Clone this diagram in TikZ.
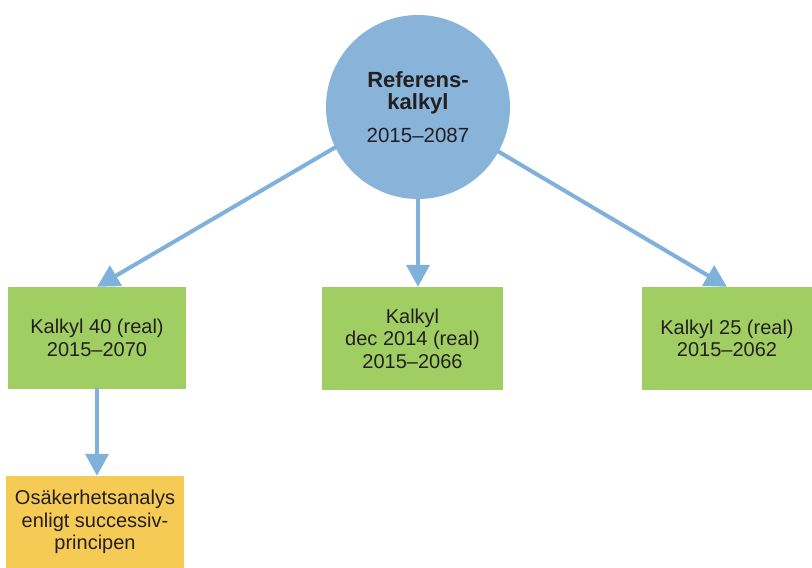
\documentclass[tikz,border=0pt]{standalone}
\usepackage{fontspec}
\setmainfont{Liberation Sans}
\usetikzlibrary{arrows.meta}
\definecolor{circblue}{HTML}{88B4DA}
\definecolor{arrblue}{HTML}{80B1DC}
\definecolor{boxgreen}{HTML}{A0CE63}
\definecolor{boxyellow}{HTML}{F6CB55}
\definecolor{txt}{HTML}{231F20}
\tikzset{
  greenbox/.style={rectangle, fill=boxgreen, draw=none, align=center, text=txt,
    font=\fontsize{20}{22.5}\selectfont, inner sep=0pt},
  yellowbox/.style={greenbox, fill=boxyellow},
  conn/.style={arrblue, line width=4pt, -{Triangle[length=22pt,width=23pt]}, shorten <=-1pt},
}
\begin{document}
\begin{tikzpicture}[x=1pt,y=-1pt]
\useasboundingbox (0,0) rectangle (812,568);
\node[circle, fill=circblue, minimum size=184pt, inner sep=0pt, align=center, text=txt,
  font=\fontsize{20}{22.5}\selectfont] (ref) at (418,107)
  {\bfseries\fontsize{22}{23}\selectfont Referens-\\\bfseries\fontsize{22}{23}\selectfont kalkyl\\[10pt]\mdseries\fontsize{20.5}{22.5}\selectfont 2015–2087};
\node[greenbox, minimum width=178pt, minimum height=102pt] (k40) at (97,338) {Kalkyl 40 (real)\\2015–2070};
\node[greenbox, minimum width=181pt, minimum height=103pt] (kdec) at (412.5,338.5) {Kalkyl\\dec 2014 (real)\\2015–2066};
\node[greenbox, minimum width=170pt, minimum height=103pt] (k25) at (727,338.5) {Kalkyl 25 (real)\\2015–2062};
\node[yellowbox, minimum width=178pt, minimum height=92pt] (osa) at (95,522) {Osäkerhetsanalys\\enligt successiv-\\principen};
\draw[conn] (ref.206) -- (k40.north);
\draw[conn] (ref.south) -- (kdec.north -| ref.south);
\draw[conn] (ref.331) -- (k25.north);
\draw[conn] (k40.south) -- (osa.north -| k40.south);
\end{tikzpicture}
\end{document}
